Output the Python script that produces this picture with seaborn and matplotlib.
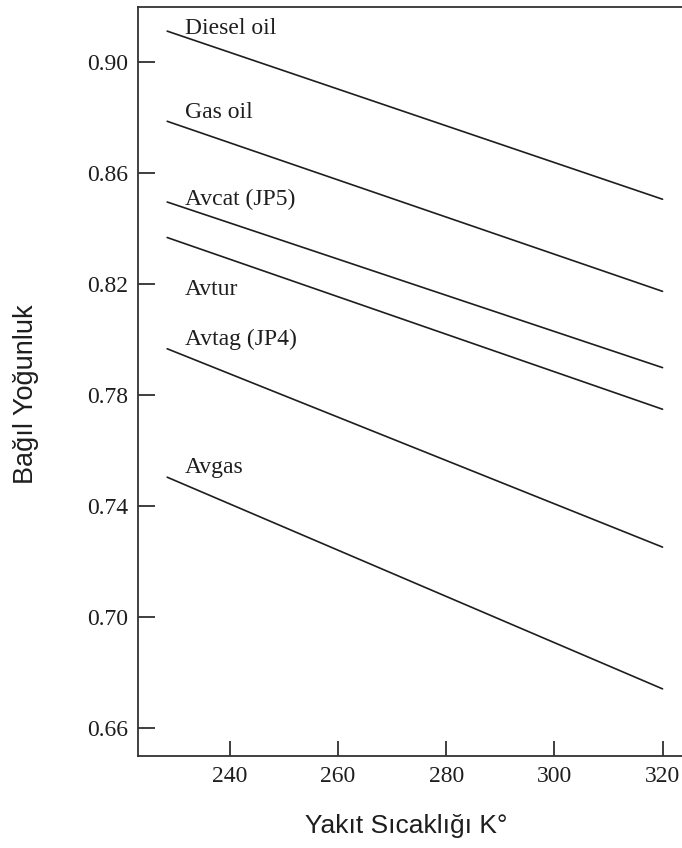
import matplotlib
matplotlib.use("Agg")
import matplotlib.pyplot as plt
import seaborn as sns
import pandas as pd

# Relative density of aviation and diesel fuels versus fuel temperature (K)
fuels = ["Diesel oil", "Gas oil", "Avcat (JP5)", "Avtur", "Avtag (JP4)", "Avgas"]
temp_start = 228.4
temp_end = 320.0
density_start = [0.9113, 0.8788, 0.8497, 0.8369, 0.7968, 0.7505]
density_end = [0.8507, 0.8175, 0.7900, 0.7750, 0.7253, 0.6742]

# label anchor (left, baseline) for each fuel name
label_x = [231.7, 231.7, 231.7, 231.7, 231.7, 231.7]
label_y = [0.9102, 0.8801, 0.8485, 0.8161, 0.7980, 0.7519]

x_ticks = [240, 260, 280, 300, 320]
y_ticks = [0.66, 0.70, 0.74, 0.78, 0.82, 0.86, 0.90]

rows = []
for name, d0, d1 in zip(fuels, density_start, density_end):
    rows.append({"fuel": name, "T": temp_start, "rho": d0})
    rows.append({"fuel": name, "T": temp_end, "rho": d1})
df = pd.DataFrame(rows)

sns.set_style("ticks")
plt.rcParams["font.family"] = ["Liberation Serif", "DejaVu Serif"]

ink = "#1e1e1e"
fig = plt.figure(figsize=(6.82, 8.48), dpi=100)
ax = fig.add_axes([138 / 682, 92 / 848, 544 / 682, 749 / 848])

sns.lineplot(data=df, x="T", y="rho", hue="fuel", hue_order=fuels,
             palette=[ink] * len(fuels), linewidth=1.2, legend=False,
             ax=ax, sort=False)

for name, lx, ly in zip(fuels, label_x, label_y):
    ax.text(lx, ly, name, fontsize=17, color=ink, ha="left", va="baseline")

ax.set_xlim(223.0, 323.6)
ax.set_ylim(0.65, 0.92)
ax.set_xticks(x_ticks)
ax.set_yticks(y_ticks)
ax.set_xticklabels([str(t) for t in x_ticks])
ax.set_yticklabels([f"{t:.2f}" for t in y_ticks])

ax.tick_params(axis="y", direction="in", length=12, width=1.2, pad=7,
               labelsize=17, colors=ink)
ax.tick_params(axis="x", direction="in", length=11, width=1.2, pad=7,
               labelsize=17, colors=ink)

for side in ["left", "bottom", "top"]:
    ax.spines[side].set_linewidth(1.3)
    ax.spines[side].set_color("#333333")
ax.spines["right"].set_visible(False)

ax.set_xlabel("Yakıt Sıcaklığı K°", fontsize=19, color=ink,
              family=["Liberation Sans", "DejaVu Sans"])
ax.set_ylabel("Bağıl Yoğunluk", fontsize=19.5, color=ink,
              family=["Liberation Sans", "DejaVu Sans"])
ax.xaxis.set_label_coords(0.4926, -0.094)
ax.xaxis.label.set_va("center")
ax.yaxis.set_label_coords(-0.206, 0.483)
ax.yaxis.label.set_va("center")

fig.savefig("out.png", dpi=100)
